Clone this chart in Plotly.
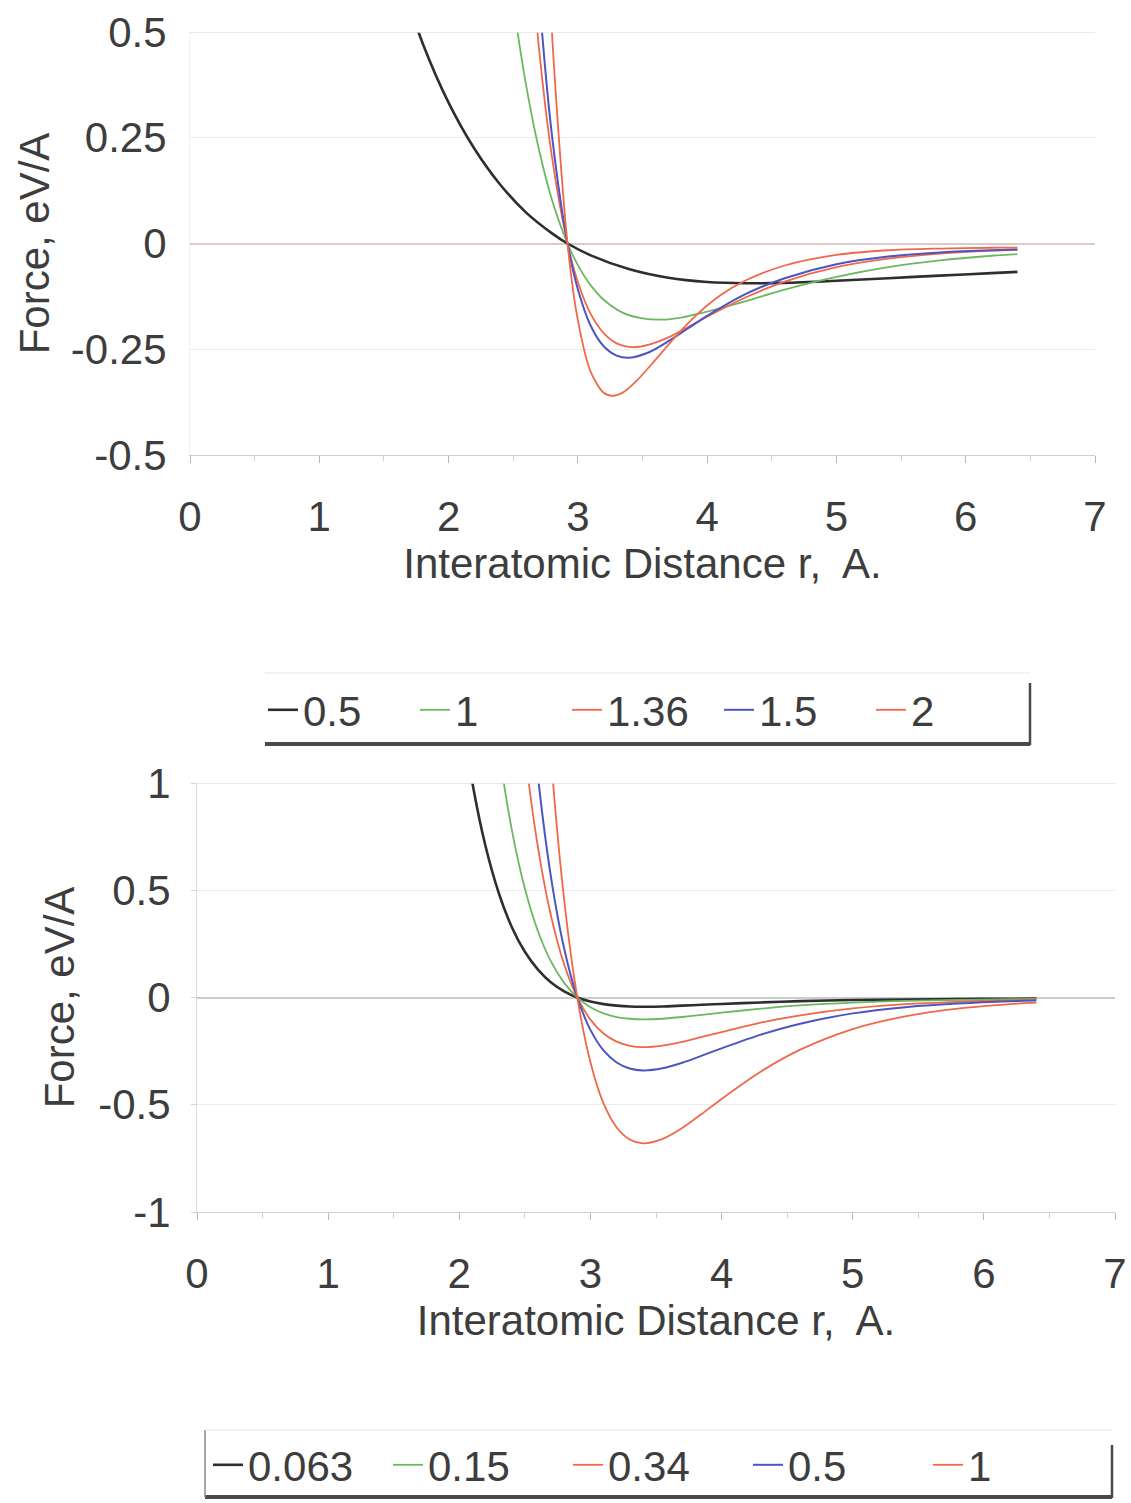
import plotly.graph_objects as go

# ---------------- Top chart: alpha series ----------------
top_labels = ["0.5", "1", "1.36", "1.5", "2"]

r_top_05 = [1.6, 1.8, 2.0, 2.2, 2.4, 2.6, 2.8, 2.92, 3.1, 3.4, 3.7, 4.0, 4.3, 4.6, 5.0, 5.4, 5.8, 6.2, 6.4]
f_top_05 = [0.651, 0.473, 0.333, 0.224, 0.139, 0.073, 0.024, 0.0, -0.028, -0.061, -0.081, -0.091, -0.094,
            -0.093, -0.088, -0.082, -0.076, -0.070, -0.067]

r_top_1 = [2.4, 2.5, 2.6, 2.7, 2.8, 2.92, 3.0, 3.1, 3.2, 3.35, 3.5, 3.65, 3.8, 4.0, 4.3, 4.6, 5.0, 5.4, 5.8, 6.2, 6.4]
f_top_1 = [0.826, 0.572, 0.374, 0.221, 0.103, 0.0, -0.051, -0.099, -0.133, -0.164, -0.177, -0.180, -0.175,
           -0.161, -0.136, -0.109, -0.079, -0.056, -0.040, -0.029, -0.025]

r_top_136 = [2.5, 2.6, 2.7, 2.8, 2.92, 3.0, 3.1, 3.2, 3.3, 3.43, 3.55, 3.7, 3.85, 4.0, 4.3, 4.6, 5.0, 5.4, 5.8, 6.2, 6.4]
f_top_136 = [1.334, 0.825, 0.460, 0.204, 0.0, -0.091, -0.167, -0.212, -0.236, -0.245, -0.239, -0.222, -0.198,
             -0.173, -0.127, -0.090, -0.056, -0.036, -0.024, -0.017, -0.015]

r_top_15 = [2.5, 2.6, 2.7, 2.8, 2.92, 3.0, 3.1, 3.2, 3.3, 3.4, 3.55, 3.7, 3.85, 4.0, 4.3, 4.6, 5.0, 5.4, 5.8, 6.2, 6.4]
f_top_15 = [1.779, 1.076, 0.588, 0.255, 0.0, -0.108, -0.195, -0.243, -0.265, -0.270, -0.257, -0.231, -0.201,
            -0.171, -0.119, -0.082, -0.049, -0.031, -0.021, -0.016, -0.014]

r_top_2 = [2.6, 2.7, 2.8, 2.92, 3.0, 3.1, 3.2, 3.27, 3.35, 3.45, 3.6, 3.75, 3.9, 4.1, 4.3, 4.6, 5.0, 5.4, 5.8, 6.2, 6.4]
f_top_2 = [2.448, 1.235, 0.497, 0.0, -0.181, -0.304, -0.353, -0.360, -0.352, -0.326, -0.275, -0.222, -0.174,
           -0.123, -0.087, -0.052, -0.027, -0.016, -0.012, -0.010, -0.010]

# ---------------- Bottom chart: D series ----------------
bot_labels = ["0.063", "0.15", "0.34", "0.5", "1"]

r_bot_0063 = [2.0, 2.1, 2.2, 2.3, 2.4, 2.5, 2.6, 2.7, 2.8, 2.9, 3.0, 3.1, 3.2, 3.3, 3.4, 3.55, 3.7, 3.85, 4.0,
              4.3, 4.6, 5.0, 5.4, 5.8, 6.2, 6.4]
f_bot_0063 = [1.40, 1.00, 0.706, 0.489, 0.329, 0.213, 0.130, 0.070, 0.029, 0.0, -0.019, -0.031, -0.038, -0.042,
              -0.043, -0.042, -0.038, -0.034, -0.030, -0.023, -0.017, -0.012, -0.009, -0.007, -0.006, -0.005]

r_bot_015 = [2.2, 2.3, 2.4, 2.5, 2.6, 2.7, 2.8, 2.9, 3.0, 3.1, 3.2, 3.3, 3.4, 3.55, 3.7, 3.85, 4.0, 4.3, 4.6,
             5.0, 5.4, 5.8, 6.2, 6.4]
f_bot_015 = [1.682, 1.164, 0.784, 0.508, 0.309, 0.167, 0.068, 0.0, -0.045, -0.074, -0.091, -0.099, -0.102,
             -0.099, -0.091, -0.081, -0.071, -0.052, -0.037, -0.024, -0.016, -0.011, -0.008, -0.007]

r_bot_034 = [2.4, 2.5, 2.6, 2.7, 2.8, 2.9, 3.0, 3.1, 3.2, 3.3, 3.4, 3.55, 3.7, 3.85, 4.0, 4.3, 4.6, 5.0, 5.4,
             5.8, 6.2, 6.4]
f_bot_034 = [1.778, 1.151, 0.700, 0.379, 0.154, 0.0, -0.103, -0.168, -0.206, -0.225, -0.231, -0.224, -0.207,
             -0.184, -0.161, -0.117, -0.083, -0.051, -0.031, -0.020, -0.013, -0.011]

r_bot_05 = [2.4, 2.5, 2.6, 2.7, 2.8, 2.9, 3.0, 3.1, 3.2, 3.3, 3.4, 3.55, 3.7, 3.85, 4.0, 4.3, 4.6, 5.0, 5.4,
            5.8, 6.2, 6.4]
f_bot_05 = [2.614, 1.693, 1.030, 0.558, 0.227, 0.0, -0.151, -0.247, -0.303, -0.331, -0.340, -0.330, -0.304,
            -0.271, -0.237, -0.173, -0.122, -0.074, -0.045, -0.028, -0.017, -0.014]

r_bot_1 = [2.5, 2.6, 2.7, 2.8, 2.9, 3.0, 3.1, 3.2, 3.3, 3.4, 3.55, 3.7, 3.85, 4.0, 4.3, 4.6, 5.0, 5.4, 5.8,
           6.2, 6.4]
f_bot_1 = [3.386, 2.059, 1.116, 0.454, 0.0, -0.302, -0.494, -0.606, -0.662, -0.680, -0.659, -0.608, -0.542,
           -0.473, -0.345, -0.243, -0.147, -0.088, -0.052, -0.031, -0.024]

# ticks
x_ticks = [0, 1, 2, 3, 4, 5, 6, 7]
top_y_ticks = [-0.5, -0.25, 0, 0.25, 0.5]
top_y_text = ["-0.5", "-0.25", "0", "0.25", "0.5"]
bot_y_ticks = [-1, -0.5, 0, 0.5, 1]
bot_y_text = ["-1", "-0.5", "0", "0.5", "1"]

x_title = "Interatomic Distance r,  A."
y_title = "Force, eV/A"

colors = ["#2e2e2e", "#6cb860", "#f0684a", "#4c55c0", "#f0684a"]
widths = [2.6, 1.8, 1.8, 2.0, 1.8]

W, H = 1131, 1503
FONT = "Liberation Sans, Arial, sans-serif"
TXT = "#3d3d3d"

def px(v):
    return v / W

def py(v):
    return 1 - v / H

fig = go.Figure()

top_series = [(r_top_05, f_top_05), (r_top_1, f_top_1), (r_top_136, f_top_136), (r_top_15, f_top_15), (r_top_2, f_top_2)]
for i, (rr, ff) in enumerate(top_series):
    fig.add_trace(go.Scatter(x=rr, y=ff, mode="lines", name=top_labels[i],
                             line=dict(color=colors[i], width=widths[i], shape="spline", smoothing=0.8),
                             xaxis="x", yaxis="y", legend="legend"))

bot_series = [(r_bot_0063, f_bot_0063), (r_bot_015, f_bot_015), (r_bot_034, f_bot_034), (r_bot_05, f_bot_05), (r_bot_1, f_bot_1)]
for i, (rr, ff) in enumerate(bot_series):
    fig.add_trace(go.Scatter(x=rr, y=ff, mode="lines", name=bot_labels[i],
                             line=dict(color=colors[i], width=widths[i], shape="spline", smoothing=0.8),
                             xaxis="x2", yaxis="y2", legend="legend2"))

tick_font = dict(family=FONT, size=42, color=TXT)

fig.update_layout(
    width=W, height=H, autosize=False,
    margin=dict(l=0, r=0, t=0, b=0),
    paper_bgcolor="white", plot_bgcolor="white",
    font=dict(family=FONT, color=TXT),
    xaxis=dict(domain=[px(190), px(1095)], range=[0, 7], tickvals=x_ticks, anchor="y",
               showline=True, linecolor="#d0d0d0", linewidth=1, automargin=False,
               ticks="outside", ticklen=7, tickcolor="#b8b8b8", ticklabelstandoff=18,
               showgrid=False, zeroline=False, tickfont=tick_font,
               minor=dict(ticks="outside", ticklen=5, tickcolor="#d0d0d0", dtick=0.5),
               title=dict(text=x_title, standoff=7, font=tick_font)),
    yaxis=dict(domain=[py(455), py(32)], range=[-0.5, 0.5], tickvals=top_y_ticks, ticktext=top_y_text,
               anchor="x", ticks="", ticklabelstandoff=14, showline=True, linecolor="#f0f0f0",
               automargin=False, tickfont=tick_font,
               showgrid=True, gridcolor="#efe9e9", gridwidth=1,
               zeroline=True, zerolinecolor="#dccaca", zerolinewidth=1.5,
               title=dict(text=y_title, standoff=8, font=tick_font)),
    xaxis2=dict(domain=[px(197), px(1115)], range=[0, 7], tickvals=x_ticks, anchor="y2",
                showline=True, linecolor="#d0d0d0", linewidth=1, automargin=False,
                ticks="outside", ticklen=7, tickcolor="#b8b8b8", ticklabelstandoff=18,
                showgrid=False, zeroline=False, tickfont=tick_font,
                minor=dict(ticks="outside", ticklen=5, tickcolor="#d0d0d0", dtick=0.5),
                title=dict(text=x_title, standoff=7, font=tick_font)),
    yaxis2=dict(domain=[py(1212), py(783)], range=[-1, 1], tickvals=bot_y_ticks, ticktext=bot_y_text,
                anchor="x2", ticks="outside", ticklen=5, tickcolor="#d4d4d4", ticklabelstandoff=12,
                showline=True, linecolor="#dcdcdc", automargin=False, tickfont=tick_font,
                showgrid=True, gridcolor="#efe9e9", gridwidth=1,
                zeroline=True, zerolinecolor="#c9cdcd", zerolinewidth=1.5,
                title=dict(text=y_title, standoff=10, font=tick_font)),
    legend=dict(orientation="h", x=px(263), y=py(710), xanchor="left", yanchor="middle",
                font=tick_font, bgcolor="rgba(0,0,0,0)",
                entrywidth=107, entrywidthmode="pixels", itemwidth=30, tracegroupgap=0),
    legend2=dict(orientation="h", x=px(208), y=py(1465), xanchor="left", yanchor="middle",
                 font=tick_font, bgcolor="rgba(0,0,0,0)",
                 entrywidth=135, entrywidthmode="pixels", itemwidth=30, tracegroupgap=0),
    showlegend=True,
)

# top gridlines at the upper range edge + legend frames (scanned shadow look)
shapes = [
    dict(type="line", xref="x", yref="y", x0=0, x1=7, y0=0.5, y1=0.5,
         line=dict(color="#ecdcdc", width=1.5)),
    dict(type="line", xref="x2", yref="y2", x0=0, x1=7, y0=1, y1=1,
         line=dict(color="#ecdcdc", width=1.5)),
    dict(type="line", xref="paper", yref="paper", x0=px(265), x1=px(1030), y0=py(744), y1=py(744),
         line=dict(color="#4a4a4a", width=4)),
    dict(type="line", xref="paper", yref="paper", x0=px(1030), x1=px(1030), y0=py(683), y1=py(745),
         line=dict(color="#4a4a4a", width=2.5)),
    dict(type="line", xref="paper", yref="paper", x0=px(265), x1=px(1030), y0=py(673), y1=py(673),
         line=dict(color="#f2e2e2", width=1)),
    dict(type="line", xref="paper", yref="paper", x0=px(205), x1=px(1112), y0=py(1497), y1=py(1497),
         line=dict(color="#4a4a4a", width=4)),
    dict(type="line", xref="paper", yref="paper", x0=px(1112), x1=px(1112), y0=py(1445), y1=py(1498),
         line=dict(color="#4a4a4a", width=2.5)),
    dict(type="line", xref="paper", yref="paper", x0=px(205), x1=px(205), y0=py(1430), y1=py(1497),
         line=dict(color="#8a8a8a", width=1.5)),
    dict(type="line", xref="paper", yref="paper", x0=px(205), x1=px(1112), y0=py(1430), y1=py(1430),
         line=dict(color="#f2e2e2", width=1)),
]
fig.update_layout(shapes=shapes)

fig.write_html("out.html", config={"displayModeBar": False},
               post_script="document.body.style.margin='0px';")
